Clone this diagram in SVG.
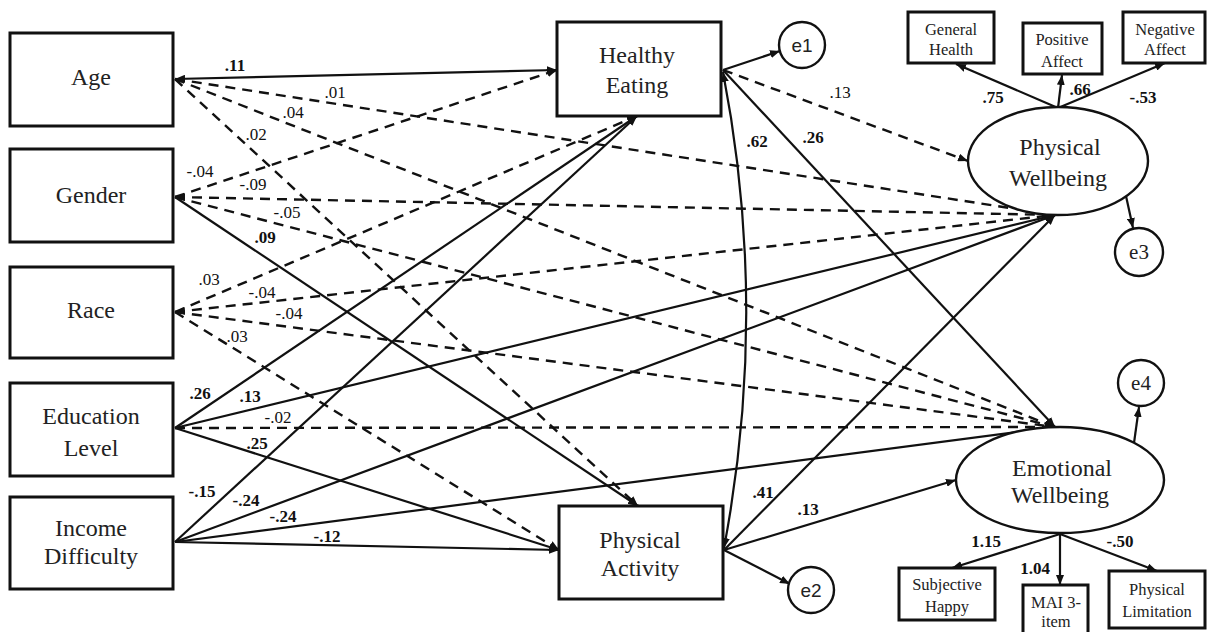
<svg xmlns="http://www.w3.org/2000/svg" width="1207" height="632" viewBox="0 0 1207 632">
<defs>
<style>
.box{fill:#fff;stroke:#111;stroke-width:3}
.ell{fill:#fff;stroke:#111;stroke-width:2.4}
.t{font-family:"Liberation Serif","Times New Roman",serif;font-size:24px;fill:#222;text-anchor:middle}
.ts{font-family:"Liberation Serif","Times New Roman",serif;font-size:16.5px;fill:#222;text-anchor:middle}
.e{font-family:"Liberation Sans",Arial,sans-serif;font-size:19px;fill:#222;text-anchor:middle}
.es{font-family:"Liberation Serif","Times New Roman",serif;font-size:21px;fill:#222;text-anchor:middle}
.l{font-family:"Liberation Serif","Times New Roman",serif;font-size:17px;fill:#111;text-anchor:middle}
.b{font-weight:bold}
.s{fill:none;stroke:#111;stroke-width:2.2;marker-end:url(#ah)}
.d{fill:none;stroke:#111;stroke-width:2.4;stroke-dasharray:10,7;marker-end:url(#ah)}
</style>
<marker id="ah" markerUnits="userSpaceOnUse" markerWidth="11" markerHeight="8" refX="10" refY="4" orient="auto"><path d="M0,0 L10,4 L0,8 Z" fill="#111"/></marker>
<marker id="as" markerUnits="userSpaceOnUse" markerWidth="11" markerHeight="8" refX="10" refY="4" orient="auto-start-reverse"><path d="M0,0 L10,4 L0,8 Z" fill="#111"/></marker>
</defs>
<rect width="1207" height="632" fill="#fff"/>

<g id="connectors">
<path class="s" d="M175,79 L557,70" style="marker-start:url(#as)"/>
<path class="d" d="M175,79 L1055,215"/>
<path class="d" d="M175,79 L1055,427"/>
<path class="d" d="M175,79 L638,506"/>
<path class="d" d="M175,197 L557,70"/>
<path class="d" d="M175,197 L1055,215" style="marker-start:url(#as)"/>
<path class="d" d="M175,197 L1055,427"/>
<path class="s" d="M175,197 L638,506"/>
<path class="d" d="M175,312 L637,116"/>
<path class="d" d="M175,312 L1055,215" style="marker-start:url(#as)"/>
<path class="d" d="M175,312 L1055,427"/>
<path class="d" d="M175,312 L559,550"/>
<path class="s" d="M175,428 L637,116"/>
<path class="s" d="M175,428 L1055,215"/>
<path class="d" d="M175,428 L1055,427"/>
<path class="s" d="M175,428 L559,550"/>
<path class="s" d="M175,542 L637,116"/>
<path class="s" d="M175,542 L1055,215"/>
<path class="s" d="M175,542 L1055,427"/>
<path class="s" d="M175,542 L559,550"/>
<path class="s" d="M723,70 L780,51"/>
<path class="d" d="M723,70 L968,161"/>
<path class="s" d="M723,70 L1055,427"/>
<path class="s" d="M723,72 Q769,310 724,548" style="marker-start:url(#as)"/>
<path class="s" d="M724,550 L790,584"/>
<path class="s" d="M724,550 L1055,215"/>
<path class="s" d="M724,550 L956,480"/>
<path class="s" d="M1058,108 L956,64"/>
<path class="s" d="M1058,108 L1062,75"/>
<path class="s" d="M1058,108 L1165,63"/>
<path class="s" d="M1126,196 L1133,228"/>
<path class="s" d="M1060,534 L952,568"/>
<path class="s" d="M1060,534 L1060,585"/>
<path class="s" d="M1060,534 L1157,571"/>
<path class="s" d="M1134,443 L1139,407"/>
</g>

<g id="labels">
<text class="l b" x="235" y="71">.11</text>
<text class="l" x="335" y="98">.01</text>
<text class="l" x="293" y="118">.04</text>
<text class="l" x="256" y="140">.02</text>
<text class="l" x="200" y="177">-.04</text>
<text class="l" x="253" y="190">-.09</text>
<text class="l" x="287" y="218">-.05</text>
<text class="l b" x="265" y="243">.09</text>
<text class="l" x="209" y="285">.03</text>
<text class="l" x="262" y="298">-.04</text>
<text class="l" x="289" y="319">-.04</text>
<text class="l" x="237" y="342">.03</text>
<text class="l b" x="200" y="399">.26</text>
<text class="l b" x="250" y="402">.13</text>
<text class="l" x="278" y="423">-.02</text>
<text class="l b" x="257" y="449">.25</text>
<text class="l b" x="202" y="497">-.15</text>
<text class="l b" x="246" y="506">-.24</text>
<text class="l b" x="283" y="522">-.24</text>
<text class="l b" x="327" y="542">-.12</text>
<text class="l" x="840" y="98">.13</text>
<text class="l b" x="813" y="143">.26</text>
<text class="l b" x="757" y="147">.62</text>
<text class="l b" x="763" y="498">.41</text>
<text class="l b" x="808" y="515">.13</text>
<text class="l b" x="993" y="103">.75</text>
<text class="l b" x="1080" y="95">.66</text>
<text class="l b" x="1143" y="103">-.53</text>
<text class="l b" x="986" y="547">1.15</text>
<text class="l b" x="1035" y="574">1.04</text>
<text class="l b" x="1120" y="547">-.50</text>
</g>

<g id="age"><rect class="box" x="10" y="33" width="163" height="93"/><text class="t" x="91" y="85">Age</text></g>
<g id="gender"><rect class="box" x="10" y="149" width="163" height="93"/><text class="t" x="91" y="203">Gender</text></g>
<g id="race"><rect class="box" x="10" y="267" width="163" height="91"/><text class="t" x="91" y="318">Race</text></g>
<g id="education"><rect class="box" x="10" y="383" width="163" height="93"/><text class="t" x="91" y="424">Education</text><text class="t" x="91" y="456">Level</text></g>
<g id="income"><rect class="box" x="10" y="497" width="163" height="92"/><text class="t" x="91" y="536">Income</text><text class="t" x="91" y="564">Difficulty</text></g>

<g id="healthy-eating"><rect class="box" x="557" y="22" width="164" height="94"/><text class="t" x="637" y="63">Healthy</text><text class="t" x="637" y="93">Eating</text></g>
<g id="physical-activity"><rect class="box" x="559" y="506" width="164" height="93"/><text class="t" x="640" y="548">Physical</text><text class="t" x="640" y="576">Activity</text></g>

<g id="e1"><circle class="ell" cx="802" cy="45" r="23"/><text class="e" x="802" y="52">e1</text></g>
<g id="e2"><circle class="ell" cx="811" cy="590" r="23"/><text class="e" x="811" y="597">e2</text></g>

<g id="physical-wellbeing"><ellipse class="ell" cx="1058" cy="161" rx="90" ry="54"/><text class="t" x="1060" y="155">Physical</text><text class="t" x="1058" y="186">Wellbeing</text></g>
<g id="emotional-wellbeing"><ellipse class="ell" cx="1060" cy="480" rx="104" ry="53"/><text class="t" x="1062" y="476">Emotional</text><text class="t" x="1060" y="503">Wellbeing</text></g>

<g id="e3"><circle class="ell" cx="1139" cy="252" r="24"/><text class="es" x="1139" y="259">e3</text></g>
<g id="e4"><circle class="ell" cx="1141" cy="383" r="23"/><text class="es" x="1141" y="390">e4</text></g>

<g id="general-health"><rect class="box" x="908" y="12" width="86" height="51"/><text class="ts" x="951" y="35">General</text><text class="ts" x="951" y="55">Health</text></g>
<g id="positive-affect"><rect class="box" x="1023" y="23" width="79" height="51"/><text class="ts" x="1062" y="45">Positive</text><text class="ts" x="1062" y="67">Affect</text></g>
<g id="negative-affect"><rect class="box" x="1123" y="12" width="82" height="51"/><text class="ts" x="1165" y="35">Negative</text><text class="ts" x="1165" y="55">Affect</text></g>

<g id="subjective-happy"><rect class="box" x="899" y="568" width="96" height="52"/><text class="ts" x="947" y="590">Subjective</text><text class="ts" x="947" y="612">Happy</text></g>
<g id="mai-3-item"><rect class="box" x="1023" y="585" width="65" height="60"/><text class="ts" x="1056" y="608">MAI 3-</text><text class="ts" x="1056" y="627">item</text></g>
<g id="physical-limitation"><rect class="box" x="1109" y="571" width="96" height="57"/><text class="ts" x="1157" y="595">Physical</text><text class="ts" x="1157" y="617">Limitation</text></g>
</svg>
